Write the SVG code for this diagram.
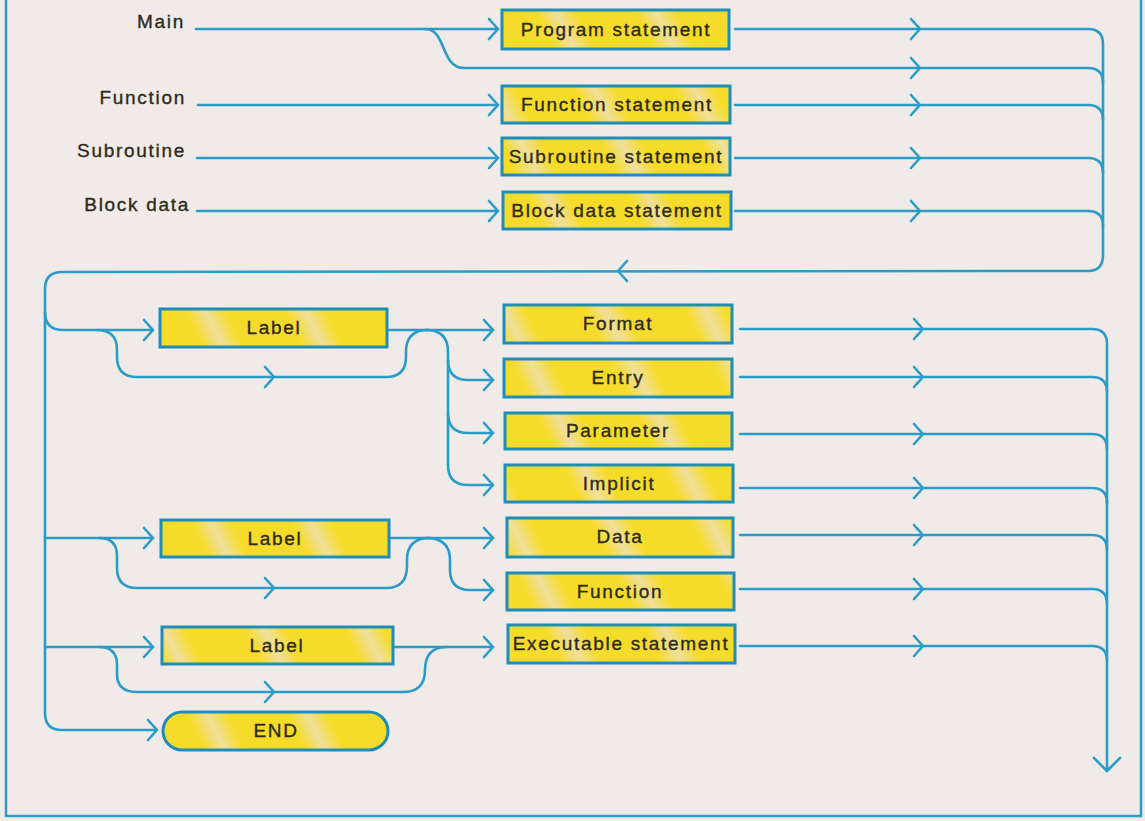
<svg xmlns="http://www.w3.org/2000/svg" xmlns:xlink="http://www.w3.org/1999/xlink" width="1145" height="821" viewBox="0 0 1145 821">
<style>
.ln{fill:none;stroke:#2b9bc8;stroke-width:2.6;stroke-linecap:round;stroke-linejoin:round}
.fr{fill:none;stroke:#2b9bc8;stroke-width:2.5}
.box{fill:url(#stripes);stroke:#1f8db8;stroke-width:3}
.t{font-family:"Liberation Sans",Arial,sans-serif;font-size:19px;letter-spacing:1.7px;fill:#2e2a1a;stroke:#2e2a1a;stroke-width:0.35}
.c{text-anchor:middle}
.e{text-anchor:end}
</style>
<defs>
<linearGradient id="stripes" gradientUnits="userSpaceOnUse" x1="0" y1="0" x2="80" y2="-40" spreadMethod="repeat">
<stop offset="0" stop-color="#f5dc2a"/>
<stop offset="0.3" stop-color="#f5dc2a"/>
<stop offset="0.5" stop-color="#efdf9c"/>
<stop offset="0.7" stop-color="#f5dc2a"/>
<stop offset="1" stop-color="#f5dc2a"/>
</linearGradient>
<path id="chr" class="ln" d="M-9,-10 L0,0 L-9,10"/>
<path id="chl" class="ln" d="M9,-10 L0,0 L9,10"/>
<path id="chd" class="ln" d="M-13,-13 L0,0 L13,-13"/>
</defs>
<rect width="1145" height="821" fill="#f0ebe8"/>
<g id="frame">
<path class="fr" d="M6,0 L6,816 L1141,816 L1141,0"/>
</g>
<g id="connectors">
<path class="ln" d="M196,29 L498,29"/>
<path class="ln" d="M425,29 C447,29 440,68 464,68 L1088,68 Q1103,68 1103,83"/>
<path class="ln" d="M198,105 L498,105"/>
<path class="ln" d="M197,158 L498,158"/>
<path class="ln" d="M197,211 L498,211"/>
<path class="ln" d="M735,29 L1088,29 Q1103,29 1103,44 L1103,255 Q1103,271 1088,271 L62,272 Q45,272 45,289 L45,713 Q45,730 62,730 L156,730"/>
<path class="ln" d="M735,105 L1088,105 Q1103,105 1103,120"/>
<path class="ln" d="M735,158 L1088,158 Q1103,158 1103,173"/>
<path class="ln" d="M735,211 L1088,211 Q1103,211 1103,226"/>
<path class="ln" d="M45,312 Q45,330 63,330 L153,330"/>
<path class="ln" d="M387,330 L493,330"/>
<path class="ln" d="M97,330 Q117,330 117,350 L117,357 Q117,377 137,377 L386,377 Q406,377 406,357 L406,352 Q406,330 428,330"/>
<path class="ln" d="M426,330 Q448,330 448,352 L448,465"/>
<path class="ln" d="M448,360 Q448,380 468,380 L493,380"/>
<path class="ln" d="M448,413 Q448,433 468,433 L493,433"/>
<path class="ln" d="M448,465 Q448,485 468,485 L493,485"/>
<path class="ln" d="M45,538 L153,538"/>
<path class="ln" d="M389,538 L493,538"/>
<path class="ln" d="M99,538 Q117,538 117,556 L117,568 Q117,588 137,588 L386,588 Q407,588 407,566 L407,560 Q407,538 430,538"/>
<path class="ln" d="M426,538 Q450,538 450,560 L450,570 Q450,590 470,590 L493,590"/>
<path class="ln" d="M45,647 L153,647"/>
<path class="ln" d="M393,647 L493,647"/>
<path class="ln" d="M99,647 Q117,647 117,665 L117,674 Q117,692 137,692 L403,692 Q425,692 425,670 Q425,647 447,647"/>
<path class="ln" d="M740,329 L1092,329 Q1107,329 1107,344 L1107,771"/>
<path class="ln" d="M740,377 L1092,377 Q1107,377 1107,392"/>
<path class="ln" d="M740,434 L1092,434 Q1107,434 1107,449"/>
<path class="ln" d="M740,488 L1092,488 Q1107,488 1107,503"/>
<path class="ln" d="M740,535 L1092,535 Q1107,535 1107,550"/>
<path class="ln" d="M740,589 L1092,589 Q1107,589 1107,604"/>
<path class="ln" d="M740,646 L1092,646 Q1107,646 1107,661"/>
<use xlink:href="#chr" x="498" y="29"/>
<use xlink:href="#chr" x="498" y="105"/>
<use xlink:href="#chr" x="498" y="158"/>
<use xlink:href="#chr" x="498" y="211"/>
<use xlink:href="#chr" x="920" y="29"/>
<use xlink:href="#chr" x="920" y="68"/>
<use xlink:href="#chr" x="920" y="105"/>
<use xlink:href="#chr" x="920" y="158"/>
<use xlink:href="#chr" x="920" y="211"/>
<use xlink:href="#chl" x="618" y="271"/>
<use xlink:href="#chr" x="153" y="330"/>
<use xlink:href="#chr" x="153" y="538"/>
<use xlink:href="#chr" x="153" y="647"/>
<use xlink:href="#chr" x="157" y="730"/>
<use xlink:href="#chr" x="274" y="377"/>
<use xlink:href="#chr" x="274" y="588"/>
<use xlink:href="#chr" x="274" y="692"/>
<use xlink:href="#chr" x="493" y="330"/>
<use xlink:href="#chr" x="493" y="380"/>
<use xlink:href="#chr" x="493" y="433"/>
<use xlink:href="#chr" x="493" y="485"/>
<use xlink:href="#chr" x="493" y="538"/>
<use xlink:href="#chr" x="493" y="590"/>
<use xlink:href="#chr" x="493" y="647"/>
<use xlink:href="#chr" x="923" y="329"/>
<use xlink:href="#chr" x="923" y="377"/>
<use xlink:href="#chr" x="923" y="434"/>
<use xlink:href="#chr" x="923" y="488"/>
<use xlink:href="#chr" x="923" y="535"/>
<use xlink:href="#chr" x="923" y="589"/>
<use xlink:href="#chr" x="923" y="646"/>
<use xlink:href="#chd" x="1107" y="771"/>
</g>
<g id="lbl-main"><text class="t e" x="185" y="28">Main</text></g>
<g id="lbl-function"><text class="t e" x="186" y="104">Function</text></g>
<g id="lbl-subroutine"><text class="t e" x="186" y="157">Subroutine</text></g>
<g id="lbl-blockdata"><text class="t e" x="190" y="211">Block data</text></g>
<g id="n-program"><rect class="box" x="502" y="10" width="227" height="39"/><text class="t c" x="616" y="36">Program statement</text></g>
<g id="n-function-st"><rect class="box" x="502" y="86" width="228" height="37"/><text class="t c" x="617" y="111">Function statement</text></g>
<g id="n-subroutine"><rect class="box" x="502" y="138" width="228" height="37"/><text class="t c" x="616" y="163">Subroutine statement</text></g>
<g id="n-blockdata"><rect class="box" x="503" y="192" width="228" height="37"/><text class="t c" x="617" y="217">Block data statement</text></g>
<g id="n-label1"><rect class="box" x="160" y="309" width="227" height="38"/><text class="t c" x="274" y="334">Label</text></g>
<g id="n-format"><rect class="box" x="504" y="305" width="228" height="38"/><text class="t c" x="618" y="330">Format</text></g>
<g id="n-entry"><rect class="box" x="504" y="359" width="228" height="38"/><text class="t c" x="618" y="384">Entry</text></g>
<g id="n-parameter"><rect class="box" x="505" y="413" width="227" height="36"/><text class="t c" x="618" y="437">Parameter</text></g>
<g id="n-implicit"><rect class="box" x="505" y="465" width="228" height="37"/><text class="t c" x="619" y="490">Implicit</text></g>
<g id="n-label2"><rect class="box" x="161" y="520" width="228" height="37"/><text class="t c" x="275" y="545">Label</text></g>
<g id="n-data"><rect class="box" x="507" y="518" width="226" height="39"/><text class="t c" x="620" y="543">Data</text></g>
<g id="n-function"><rect class="box" x="507" y="573" width="227" height="37"/><text class="t c" x="620" y="598">Function</text></g>
<g id="n-label3"><rect class="box" x="162" y="627" width="231" height="37"/><text class="t c" x="277" y="652">Label</text></g>
<g id="n-executable"><rect class="box" x="508" y="625" width="227" height="38"/><text class="t c" x="621" y="650">Executable statement</text></g>
<g id="n-end"><rect class="box" x="163" y="712" width="225" height="38" rx="19" ry="19"/><text class="t c" x="276" y="737">END</text></g>
</svg>
